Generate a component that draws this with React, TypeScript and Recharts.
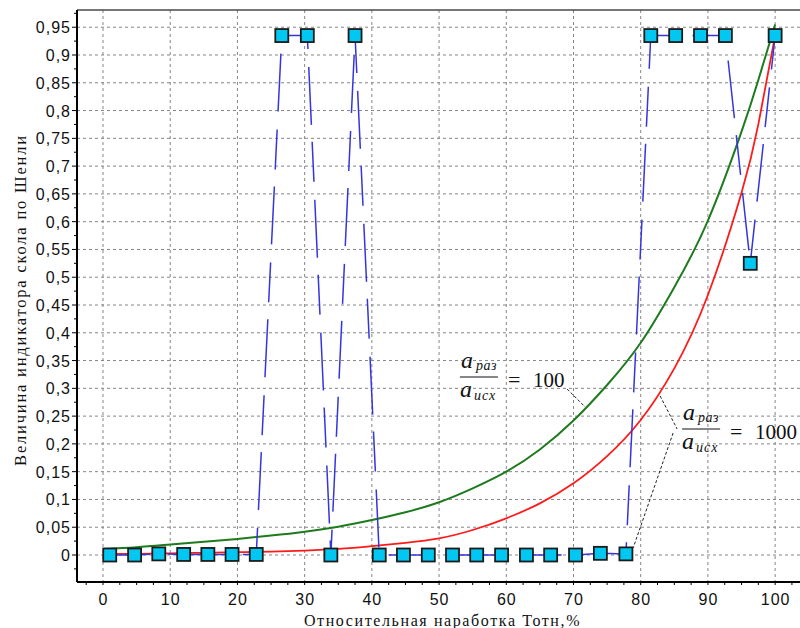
import React from "react"
import {
  LineChart,
  Line,
  XAxis,
  YAxis,
  CartesianGrid,
  ReferenceLine,
  ReferenceDot,
  Label,
} from "recharts"

// measured chip indicator (blue squares)
const MEAS_X = [1, 4.7, 8.3, 12, 15.6, 19.2, 22.8, 26.6, 30.4, 33.9, 37.5, 41.1, 44.7, 48.4, 52, 55.6, 59.3, 63, 66.6, 70.3, 74, 77.8, 81.5, 85.2, 88.9, 92.6, 96.3, 100]
const MEAS_Y = [0, 0, 0.002, 0.001, 0.001, 0.001, 0.001, 0.935, 0.935, 0, 0.935, 0, 0, 0, 0, 0, 0, 0, 0, 0, 0.003, 0.002, 0.935, 0.935, 0.935, 0.935, 0.525, 0.935]

// model curves, a_raz / a_isx = 100 and = 1000
const CURVE_X = [0, 5, 10, 15, 20, 25, 30, 35, 40, 45, 50, 55, 60, 65, 70, 75, 80, 85, 90, 95, 97.5, 100]
const GREEN_Y = [0.011, 0.014, 0.019, 0.024, 0.029, 0.035, 0.042, 0.051, 0.063, 0.077, 0.095, 0.12, 0.15, 0.19, 0.242, 0.306, 0.382, 0.482, 0.602, 0.762, 0.855, 0.955]
const RED_Y = [0.002, 0.002, 0.003, 0.004, 0.005, 0.006, 0.008, 0.011, 0.016, 0.022, 0.03, 0.045, 0.066, 0.093, 0.129, 0.178, 0.243, 0.336, 0.468, 0.652, 0.775, 0.935]

const X_MAJOR = [0, 10, 20, 30, 40, 50, 60, 70, 80, 90, 100]
const X_MINOR = [-2.5, 2.5, 5, 7.5, 12.5, 15, 17.5, 22.5, 25, 27.5, 32.5, 35, 37.5, 42.5, 45, 47.5, 52.5, 55, 57.5, 62.5, 65, 67.5, 72.5, 75, 77.5, 82.5, 85, 87.5, 92.5, 95, 97.5, 102.5]
const Y_MAJOR = [0, 0.05, 0.1, 0.15, 0.2, 0.25, 0.3, 0.35, 0.4, 0.45, 0.5, 0.55, 0.6, 0.65, 0.7, 0.75, 0.8, 0.85, 0.9, 0.95]
const Y_MINOR = [-0.025, 0.025, 0.075, 0.125, 0.175, 0.225, 0.275, 0.325, 0.375, 0.425, 0.475, 0.525, 0.575, 0.625, 0.675, 0.725, 0.775, 0.825, 0.875, 0.925, 0.975]

const X_DOMAIN = [-3.87, 103.7]
const Y_DOMAIN = [-0.0486, 0.981]

const X_TITLE = "Относительная наработка Тотн,%"
const Y_TITLE = "Величина индикатора скола по Шенли"

// label anchors (left end of the fraction bar) and leader lines
const LABEL_100 = { x: 53.1, y: 0.3204, value: "100" }
const LABEL_1000 = { x: 86.16, y: 0.2268, value: "1000" }
const LEADERS = [
  [{ x: 69.05, y: 0.2988 }, { x: 71.73, y: 0.2664 }],
  [{ x: 82.89, y: 0.2862 }, { x: 85.42, y: 0.2268 }],
  [{ x: 84.82, y: 0.2196 }, { x: 78.87, y: 0.0126 }],
]

const measured = MEAS_X.map((x, i) => ({ x, y: MEAS_Y[i] }))
const green = CURVE_X.map((x, i) => ({ x, y: GREEN_Y[i] }))
const red = CURVE_X.map((x, i) => ({ x, y: RED_Y[i] }))

const tickFont = { fontFamily: "'Liberation Sans', Arial, sans-serif", fontSize: 16, letterSpacing: 1, fill: "#111" }
const serif = "'Liberation Serif', 'Times New Roman', serif"

function XTick({ x, y, payload }: any) {
  const major = X_MAJOR.includes(payload.value)
  return (
    <g>
      <line x1={x} y1={y} x2={x} y2={y + 3} stroke="#000" />
      {major && (
        <text x={x + 0.5} y={y + 23} textAnchor="middle" {...tickFont}>
          {payload.value}
        </text>
      )}
    </g>
  )
}

function YTick({ x, y, payload }: any) {
  const major = Y_MAJOR.includes(payload.value)
  return (
    <g>
      <line x1={x} y1={y} x2={x - (major ? 5 : 3)} y2={y} stroke="#000" />
      {major && (
        <text x={x - 6} y={y + 6} textAnchor="end" {...tickFont}>
          {String(payload.value).replace(".", ",")}
        </text>
      )}
    </g>
  )
}

function Square({ cx, cy, index }: any) {
  return <rect key={index} x={cx - 6.5} y={cy - 6.5} width={13} height={13} fill="#00c8f2" stroke="#1b1b1b" strokeWidth={1.8} />
}

function Fraction({ cx, cy, value }: any) {
  const it = { fontFamily: serif, fontStyle: "italic" as const, fill: "#111" }
  return (
    <g>
      <text x={cx + 1} y={cy - 9} fontSize={24} {...it}>a</text>
      <text x={cx + 16} y={cy - 7} fontSize={14} letterSpacing={0.5} {...it}>раз</text>
      <line x1={cx} y1={cy} x2={cx + 38} y2={cy} stroke="#111" strokeWidth={1.2} />
      <text x={cx} y={cy + 20} fontSize={24} {...it}>a</text>
      <text x={cx + 14} y={cy + 23} fontSize={14} letterSpacing={1} {...it}>исх</text>
      <text x={cx + 48} y={cy + 10} fontSize={22} fontFamily={serif} fill="#111">=</text>
      <text x={cx + 73} y={cy + 10} fontSize={21} fontFamily={serif} fill="#111">{value}</text>
    </g>
  )
}

export default function App() {
  return (
    <div style={{ position: "absolute", left: 0, top: 0, width: 800, height: 628, background: "#fff" }}>
      <LineChart width={800} height={628} margin={{ top: 10, right: 0, bottom: 0, left: 0 }}>
        <CartesianGrid
          stroke="#858585"
          strokeDasharray="3 3"
          verticalValues={X_MAJOR}
          horizontalValues={Y_MAJOR}
        />
        <XAxis
          dataKey="x"
          type="number"
          domain={X_DOMAIN}
          ticks={[...X_MAJOR, ...X_MINOR]}
          interval={0}
          tickSize={0}
          tickMargin={0}
          tickLine={false}
          tick={<XTick />}
          height={46}
          axisLine={{ stroke: "#000", strokeWidth: 2 }}
          allowDuplicatedCategory={false}
        >
          <Label
            content={({ viewBox }: any) => (
              <text
                x={viewBox.x + viewBox.width / 2 + 4}
                y={viewBox.y + viewBox.height - 2}
                textAnchor="middle"
                fontFamily={serif}
                fontSize={16}
                letterSpacing={1.6}
                fill="#111"
              >
                {X_TITLE}
              </text>
            )}
          />
        </XAxis>
        <YAxis
          dataKey="y"
          type="number"
          domain={Y_DOMAIN}
          ticks={[...Y_MAJOR, ...Y_MINOR]}
          interval={0}
          tickSize={0}
          tickMargin={0}
          tickLine={false}
          tick={<YTick />}
          width={77}
          axisLine={{ stroke: "#000", strokeWidth: 2 }}
        >
          <Label
            content={({ viewBox }: any) => {
              const cx = 26
              const cy = viewBox.y + viewBox.height / 2 + 4
              return (
                <text
                  x={cx}
                  y={cy}
                  transform={`rotate(-90, ${cx}, ${cy})`}
                  textAnchor="middle"
                  fontFamily={serif}
                  fontSize={16.5}
                  letterSpacing={1.8}
                  fill="#111"
                >
                  {Y_TITLE}
                </text>
              )
            }}
          />
        </YAxis>
        <ReferenceLine y={Y_DOMAIN[1]} stroke="#4a4a4a" strokeWidth={1.5} />
        <Line data={green} dataKey="y" type="natural" stroke="#1d7a1d" strokeWidth={2} dot={false} isAnimationActive={false} />
        <Line data={red} dataKey="y" type="natural" stroke="#ff1a1a" strokeWidth={1.8} dot={false} isAnimationActive={false} />
        <Line
          data={measured}
          dataKey="y"
          type="linear"
          stroke="#3535dc"
          strokeWidth={1.5}
          strokeDasharray="40 18 58 17"
          dot={<Square />}
          isAnimationActive={false}
        />
        {LEADERS.map((seg, i) => (
          <ReferenceLine key={i} segment={seg} stroke="#222" strokeWidth={1} strokeDasharray="3 2" />
        ))}
        <ReferenceDot x={LABEL_100.x} y={LABEL_100.y} r={1} shape={(p: any) => <Fraction {...p} value={LABEL_100.value} />} />
        <ReferenceDot x={LABEL_1000.x} y={LABEL_1000.y} r={1} shape={(p: any) => <Fraction {...p} value={LABEL_1000.value} />} />
      </LineChart>
    </div>
  )
}
